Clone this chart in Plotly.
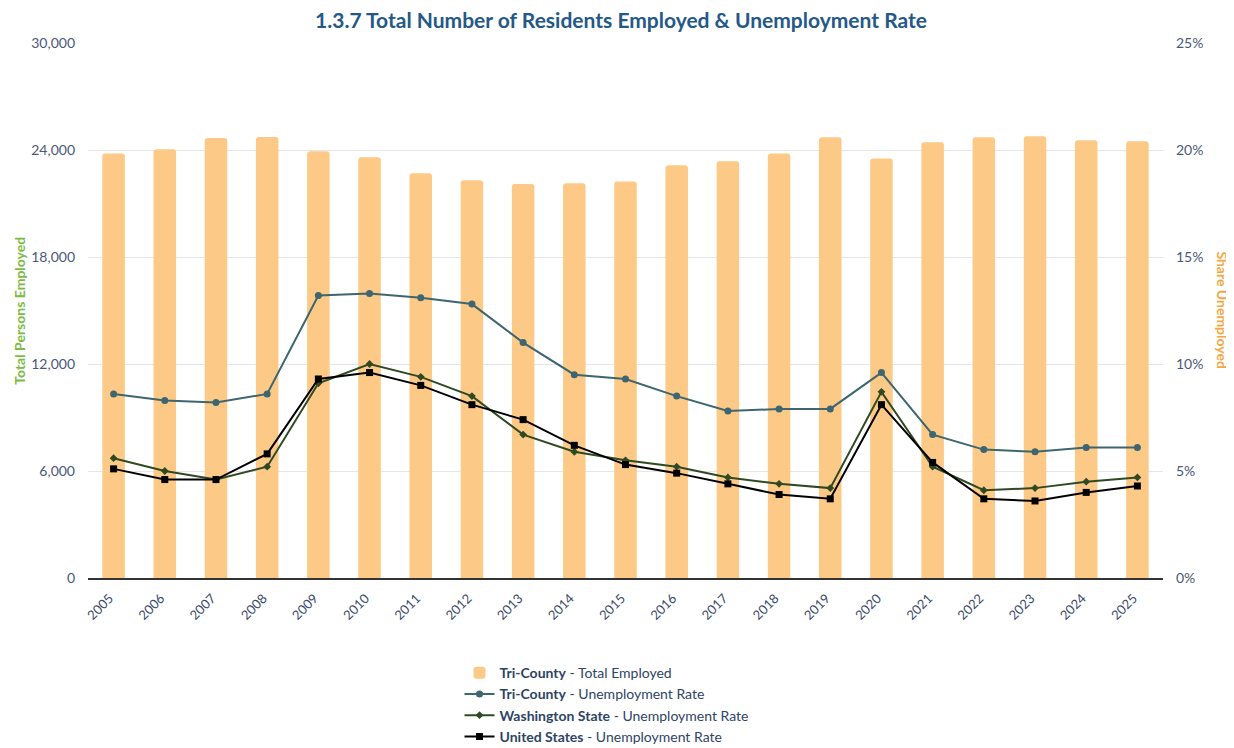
import plotly.graph_objects as go

years = [str(y) for y in range(2005, 2026)]
total_employed = [23810, 24040, 24670, 24730, 23930, 23590, 22690, 22300, 22090, 22130, 22240,
                  23140, 23370, 23810, 24710, 23530, 24430, 24710, 24770, 24540, 24490]
tri_county_rate = [8.6, 8.3, 8.2, 8.6, 13.2, 13.3, 13.1, 12.8, 11.0, 9.5, 9.3,
                   8.5, 7.8, 7.9, 7.9, 9.6, 6.7, 6.0, 5.9, 6.1, 6.1]
washington_rate = [5.6, 5.0, 4.6, 5.2, 9.1, 10.0, 9.4, 8.5, 6.7, 5.9, 5.5,
                   5.2, 4.7, 4.4, 4.2, 8.7, 5.2, 4.1, 4.2, 4.5, 4.7]
us_rate = [5.1, 4.6, 4.6, 5.8, 9.3, 9.6, 9.0, 8.1, 7.4, 6.2, 5.3,
           4.9, 4.4, 3.9, 3.7, 8.1, 5.4, 3.7, 3.6, 4.0, 4.3]
left_ticks = [0, 6000, 12000, 18000, 24000, 30000]
right_ticks = [0, 5, 10, 15, 20, 25]
right_labels = ["0%", "5%", "10%", "15%", "20%", "25%"]

FONT = "Lato"
TICK_COLOR = "#4A5878"
LEG_COLOR = "#2E4466"

fig = go.Figure()
fig.add_trace(go.Bar(
    x=years, y=total_employed, name="<b>Tri-County</b> - Total Employed",
    marker=dict(color="#FDC987", line=dict(width=0)), yaxis="y",
))
fig.add_trace(go.Scatter(
    x=years, y=tri_county_rate, name="<b>Tri-County</b> - Unemployment Rate",
    mode="lines+markers", line=dict(color="#3D6670", width=2),
    marker=dict(symbol="circle", size=7, color="#3D6670"), yaxis="y2",
))
fig.add_trace(go.Scatter(
    x=years, y=washington_rate, name="<b>Washington State</b> - Unemployment Rate",
    mode="lines+markers", line=dict(color="#2F4A22", width=2),
    marker=dict(symbol="diamond", size=6, color="#2F4A22"), yaxis="y2",
))
fig.add_trace(go.Scatter(
    x=years, y=us_rate, name="<b>United States</b> - Unemployment Rate",
    mode="lines+markers", line=dict(color="#000000", width=2),
    marker=dict(symbol="square", size=7, color="#000000"), yaxis="y2",
))

fig.update_layout(
    width=1226, height=740,
    margin=dict(l=80, r=71, t=35, b=170, autoexpand=False),
    paper_bgcolor="white", plot_bgcolor="white",
    font=dict(family=FONT, size=14, color=TICK_COLOR),
    title=dict(text="<b>1.3.7 Total Number of Residents Employed & Unemployment Rate</b>",
               x=0.5, xanchor="center", y=0.993, yanchor="top",
               font=dict(family=FONT, size=21, color="#245987")),
    bargap=0.56,
    barcornerradius=3,
    showlegend=True,
    legend=dict(orientation="v", x=0.3456, xanchor="left", y=-0.148, yanchor="top",
                font=dict(family=FONT, size=14, color=LEG_COLOR),
                tracegroupgap=0, itemwidth=30, bgcolor="rgba(0,0,0,0)"),
    xaxis=dict(type="category", tickangle=-45, showline=True, linecolor="#333333",
               linewidth=1.5, showgrid=False, ticks="", automargin=False,
               ticklabelstandoff=6, ticklabelshift=-4,
               tickfont=dict(family=FONT, size=13, color="#3A4A6A"), range=[-0.5, 20.5]),
    yaxis=dict(range=[0, 30000], tickvals=left_ticks, tickformat=",", showgrid=True,
               gridcolor="#E6E6E6", gridwidth=1, zeroline=False, showline=False,
               automargin=False, ticklabelstandoff=12,
               tickfont=dict(family=FONT, size=14, color=TICK_COLOR)),
    yaxis2=dict(range=[0, 25], tickmode="array", tickvals=right_ticks, ticktext=right_labels,
                overlaying="y", side="right", showgrid=False, zeroline=False, showline=False,
                automargin=False, ticklabelstandoff=12,
                tickfont=dict(family=FONT, size=14, color=TICK_COLOR)),
    annotations=[
        dict(text="<b>Total Persons Employed</b>", textangle=-90, xref="paper", yref="paper",
             x=-0.064, y=0.5, xanchor="center", yanchor="middle", showarrow=False,
             font=dict(family=FONT, size=14, color="#7CBB42")),
        dict(text="<b>Share Unemployed</b>", textangle=90, xref="paper", yref="paper",
             x=1.055, y=0.5, xanchor="center", yanchor="middle", showarrow=False,
             font=dict(family=FONT, size=14, color="#F5A742")),
    ],
)

fig.write_html("out.html")
